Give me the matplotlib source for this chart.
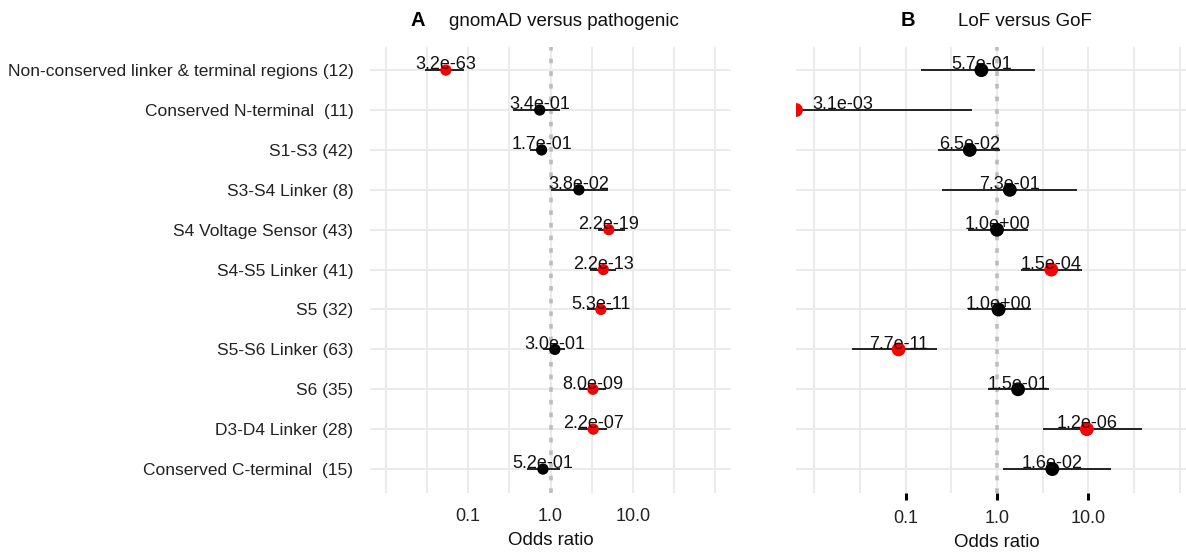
import numpy as np
import matplotlib
matplotlib.use("Agg")
import matplotlib.pyplot as plt

plt.rcParams['font.family'] = ['Liberation Sans', 'DejaVu Sans']

regions = ["Non-conserved linker & terminal regions (12)", "Conserved N-terminal  (11)",
           "S1-S3 (42)", "S3-S4 Linker (8)", "S4 Voltage Sensor (43)", "S4-S5 Linker (41)",
           "S5 (32)", "S5-S6 Linker (63)", "S6 (35)", "D3-D4 Linker (28)",
           "Conserved C-terminal  (15)"]

# Panel A: gnomAD versus pathogenic
a_or = [0.054, 0.74, 0.78, 2.21, 5.1, 4.37, 4.08, 1.13, 3.27, 3.3, 0.81]
a_lo = [0.030, 0.35, 0.565, 1.0, 3.77, 3.0, 2.76, 0.81, 2.2, 2.15, 0.52]
a_hi = [0.089, 1.30, 0.91, 4.97, 8.0, 6.2, 5.7, 1.5, 4.7, 4.85, 1.3]
a_p = ["3.2e-63", "3.4e-01", "1.7e-01", "3.8e-02", "2.2e-19", "2.2e-13", "5.3e-11",
       "3.0e-01", "8.0e-09", "2.2e-07", "5.2e-01"]

# Panel B: LoF versus GoF
b_or = [0.675, 0.0, 0.503, 1.38, 1.0, 3.93, 1.04, 0.0838, 1.7, 9.63, 4.03]
b_lo = [0.149, 0.0, 0.226, 0.25, 0.48, 1.85, 0.48, 0.026, 0.80, 3.18, 1.15]
b_hi = [2.58, 0.526, 1.07, 7.49, 2.18, 8.57, 2.38, 0.218, 3.7, 38.8, 17.5]
b_p = ["5.7e-01", "3.1e-03", "6.5e-02", "7.3e-01", "1.0e+00", "1.5e-04", "1.0e+00",
       "7.7e-11", "1.5e-01", "1.2e-06", "1.6e-02"]

tick_vals = [0.1, 1.0, 10.0]
tick_labels = ["0.1", "1.0", "10.0"]

W, H = 1186, 552
fig = plt.figure(figsize=(W / 100, H / 100), dpi=100)

def px_axes(l, r, t, b):
    return fig.add_axes([l / W, 1 - b / H, (r - l) / W, (b - t) / H])

axA = px_axes(370, 731, 47, 493)
axB = px_axes(796, 1198, 47, 493)

grid_col = "#EBEBEB"

def draw(ax, orv, lo, hi, pv, xlim, msize, ticks):
    ax.set_xscale("log")
    ax.set_xlim(*xlim)
    n = len(orv)
    y = np.arange(1, n + 1)
    ax.set_ylim(n + 0.6, 0.42)
    for s in ax.spines.values():
        s.set_visible(False)
    # grid
    for e in np.arange(-2, 2.01, 0.5):
        ax.axvline(10 ** e, color=grid_col, lw=1.5, zorder=0)
    for yy in y:
        ax.axhline(yy, color=grid_col, lw=1.5, zorder=0)
    ax.axvline(1.0, color="#BDBDBD", lw=2.6, ls=(0, (1.3, 2.2)), zorder=1)
    orv = np.asarray(orv, float)
    lo = np.asarray(lo, float)
    hi = np.asarray(hi, float)
    lo_p = np.where(lo > 0, lo, xlim[0])
    or_p = np.where(orv > 0, orv, xlim[0])
    ax.hlines(y, lo_p, hi, color="#222222", lw=1.4, zorder=2)
    cols = ["red" if float(p) < 0.01 else "black" for p in pv]
    ax.scatter(or_p, y, s=msize, c=cols, zorder=3, clip_on=True, linewidths=0)
    for yi, o, p in zip(y, orv, pv):
        if o > 0:
            ax.annotate(p, (o, yi), xytext=(0, 0.5), textcoords="offset points",
                        ha="center", va="baseline", fontsize=13, color="#111111", zorder=4)
        else:
            ax.annotate(p, (xlim[0], yi), xytext=(11.5, 0.5), textcoords="offset points",
                        ha="left", va="baseline", fontsize=13, color="#111111", zorder=4)
    ax.set_xticks(tick_vals)
    ax.set_xticklabels(tick_labels)
    ax.xaxis.set_minor_locator(matplotlib.ticker.NullLocator())
    ax.tick_params(axis="x", labelsize=13, labelcolor="#222222", pad=11 if not ticks else 7,
                   length=5 if ticks else 0, width=2.2, color="black")
    ax.set_xlabel("Odds ratio", fontsize=13.4, color="#111111", labelpad=5)
    ax.set_yticks(y)

draw(axA, a_or, a_lo, a_hi, a_p, (10 ** -2.188, 10 ** 2.188), 66, False)
draw(axB, b_or, b_lo, b_hi, b_p, (10 ** -2.2, 10 ** 2.2), 100, True)

axA.set_yticklabels(regions)
axA.tick_params(axis="y", length=0, labelsize=12.5, labelcolor="#222222", pad=12)
axB.set_yticklabels([])
axB.tick_params(axis="y", length=0)

fig.text(418 / W, 1 - 21 / H, "A", fontsize=14.5, fontweight="bold", ha="center", va="center")
fig.text(449 / W, 1 - 21 / H, "gnomAD versus pathogenic", fontsize=13.5, ha="left", va="center", color="#111111")
fig.text(908 / W, 1 - 21 / H, "B", fontsize=14.5, fontweight="bold", ha="center", va="center")
fig.text(958 / W, 1 - 21 / H, "LoF versus GoF", fontsize=13.5, ha="left", va="center", color="#111111")

fig.savefig("out.png", dpi=100)
